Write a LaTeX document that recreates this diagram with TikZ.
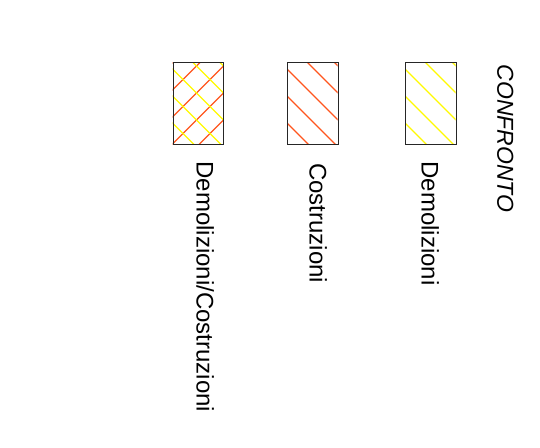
\documentclass[tikz,border=0pt]{standalone}
\usepackage{fontspec}
\setmainfont{Liberation Sans}
\definecolor{hatchorange}{RGB}{255,85,30}
\definecolor{hatchyellow}{RGB}{255,250,0}
\begin{document}
\begin{tikzpicture}[x=1pt,y=-1pt,
  legendbox/.style={draw=black!85, line width=1pt, minimum width=50.5pt, minimum height=82pt, inner sep=0pt, anchor=north west},
  hatchline/.style={line width=1.4pt},
  lbl/.style={rotate=-90, anchor=base west, inner sep=0pt, font=\fontsize{24}{28}\selectfont},
  ttl/.style={rotate=-90, anchor=base west, inner sep=0pt, font=\fontsize{23}{27}\selectfont\itshape}]
\fill[white] (0,0) rectangle (540,447);
\useasboundingbox (0,0) rectangle (540,447);
% hatching, box A (Demolizioni/Costruzioni)
\begin{scope}[shift={(172.5,62)}]
  \clip (0,0) rectangle (50.5,82);
  \foreach \e in {1,28,55,82,109} \draw[hatchline,hatchorange] (-10,\e+10) -- (60,\e-60);
  \foreach \d in {-47,-20,7,34,61} \draw[hatchline,hatchyellow] (-10,\d-10) -- (60,\d+60);
\end{scope}
% hatching, box B (Costruzioni)
\begin{scope}[shift={(287,62)}]
  \clip (0,0) rectangle (50.5,82);
  \foreach \d in {-47,-20,7,34,61} \draw[hatchline,hatchorange] (-10,\d-10) -- (60,\d+60);
\end{scope}
% hatching, box C (Demolizioni)
\begin{scope}[shift={(405,62)}]
  \clip (0,0) rectangle (50.5,82);
  \foreach \d in {-47,-20,7,34,61} \draw[hatchline,hatchyellow] (-10,\d-10) -- (60,\d+60);
\end{scope}
\node[legendbox] (boxA) at (172.5,62) {};
\node[legendbox] (boxB) at (287,62) {};
\node[legendbox] (boxC) at (405,62) {};
\node[lbl] (labA) at (196.7,161.4) {Demolizioni/Costruzioni};
\node[lbl] (labB) at (309.5,163) {Costruzioni};
\node[lbl] (labC) at (421.7,161.4) {Demolizioni};
\node[ttl] (title) at (497.3,64.5) {CONFRONTO};
\end{tikzpicture}
\end{document}
